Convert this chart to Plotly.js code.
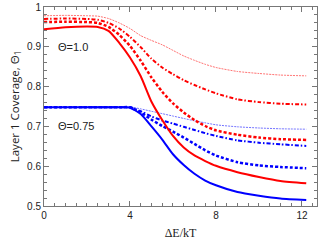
<!DOCTYPE html>
<html><head><meta charset="utf-8">
<script src="https://cdn.plot.ly/plotly-3.0.1.min.js"></script>
<style>html,body{margin:0;padding:0;background:#fff}#chart{width:327px;height:242px}</style>
</head><body><div id="chart"></div>
<script>
const xGrid = [0,1,2,2.5,3,3.5,4,4.5,5,5.5,6,6.5,7,7.5,8,9,10,11,12.2];
// Theta = 1.0 (red)
const red1 = [0.944,0.949,0.951,0.950,0.940,0.910,0.873,0.826,0.762,0.716,0.676,0.647,0.627,0.613,0.601,0.585,0.573,0.563,0.557];
const red2 = [0.962,0.963,0.962,0.960,0.950,0.930,0.902,0.865,0.823,0.787,0.758,0.735,0.716,0.701,0.690,0.679,0.672,0.668,0.666];
const red3 = [0.970,0.971,0.970,0.968,0.960,0.946,0.925,0.899,0.870,0.848,0.831,0.816,0.804,0.793,0.783,0.768,0.761,0.757,0.755];
const red4 = [0.978,0.979,0.978,0.977,0.971,0.960,0.946,0.928,0.916,0.905,0.891,0.877,0.866,0.856,0.848,0.838,0.833,0.829,0.827];
// Theta = 0.75 (blue)
const blue1 = [0.748,0.748,0.748,0.748,0.748,0.748,0.747,0.731,0.700,0.667,0.630,0.603,0.581,0.564,0.552,0.535,0.526,0.519,0.515];
const blue2 = [0.748,0.748,0.748,0.748,0.748,0.748,0.748,0.735,0.717,0.701,0.687,0.672,0.656,0.640,0.627,0.610,0.602,0.598,0.595];
const blue3 = [0.748,0.748,0.748,0.748,0.748,0.748,0.748,0.738,0.725,0.715,0.707,0.699,0.691,0.683,0.676,0.665,0.659,0.655,0.651];
const blue4 = [0.748,0.748,0.748,0.748,0.748,0.748,0.749,0.744,0.738,0.732,0.726,0.720,0.714,0.709,0.704,0.699,0.696,0.694,0.693];
const xTicks = [0,4,8,12];
const yTicks = [0.5,0.6,0.7,0.8,0.9,1];
const yTickLabels = ['0.5','0.6','0.7','0.8','0.9','1'];
const labels = ['Θ=1.0','Θ=0.75'];

const styles = [
  {w:1, d:'2px,1px', c:0.55},
  {w:2, d:'4px,2px,1.5px,2px', c:1},
  {w:2.5, d:'3px,2px', c:1},
  {w:2, d:'solid', c:1}
];
function tr(y, col, s){
  return {x:xGrid, y:y, mode:'lines', type:'scatter', showlegend:false, hoverinfo:'skip',
    opacity:s.c, line:{color:col, width:s.w, dash:s.d, shape:'spline', smoothing:0.6}};
}
const data = [
  tr(blue4,'#0000ff',styles[0]), tr(blue3,'#0000ff',styles[1]), tr(blue2,'#0000ff',styles[2]), tr(blue1,'#0000ff',styles[3]),
  tr(red4,'#ff0000',styles[0]), tr(red3,'#ff0000',styles[1]), tr(red2,'#ff0000',styles[2]), tr(red1,'#ff0000',styles[3])
];
const axBase = {showgrid:false, zeroline:false, showline:true, linecolor:'#777', linewidth:1,
  mirror:'ticks', ticks:'inside', tickcolor:'#777', ticklen:5, tickwidth:1,
  tickfont:{family:'Liberation Sans, Arial, sans-serif', size:10, color:'#222'}};
const layout = {
  width:327, height:242, margin:{l:44, r:10, t:7, b:36},
  paper_bgcolor:'#fff', plot_bgcolor:'#fff',
  xaxis:Object.assign({}, axBase, {range:[0,12.7], tickvals:xTicks, ticktext:xTicks.map(String),
    minor:{dtick:0.5, ticklen:3, tickcolor:'#777', ticks:'inside'},
    title:{text:'ΔE/kT', font:{family:'Liberation Serif, Times New Roman, serif', size:12, color:'#222'}, standoff:8}}),
  yaxis:Object.assign({}, axBase, {range:[0.5,1], tickvals:yTicks, ticktext:yTickLabels,
    minor:{dtick:0.02, ticklen:3, tickcolor:'#777', ticks:'inside'},
    title:{text:'Layer 1 Coverage, Θ<sub>1</sub>', font:{family:'Open Sans, Liberation Sans, sans-serif', size:11.5, color:'#222'}, standoff:5}}),
  annotations:[
    {x:0.55, y:0.9, xref:'x', yref:'y', text:labels[0], showarrow:false, xanchor:'left', yanchor:'middle',
     font:{family:'Liberation Sans, Arial, sans-serif', size:11, color:'#222'}},
    {x:0.55, y:0.7, xref:'x', yref:'y', text:labels[1], showarrow:false, xanchor:'left', yanchor:'middle',
     font:{family:'Liberation Sans, Arial, sans-serif', size:11, color:'#222'}}
  ]
};
Plotly.newPlot('chart', data, layout, {displayModeBar:false, staticPlot:true});
</script></body></html>
